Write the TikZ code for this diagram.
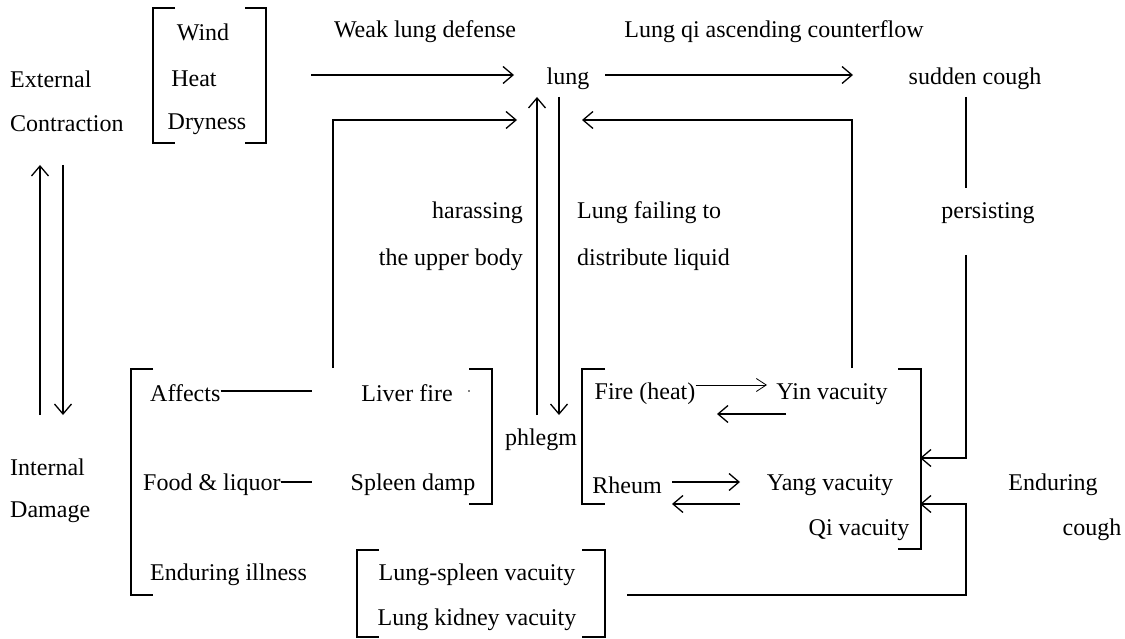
\documentclass[tikz,border=0pt]{standalone}
\usepackage{fontspec}
\setmainfont{Liberation Serif}
\usetikzlibrary{arrows.meta,positioning}
\tikzset{
  lbl/.style={inner sep=0pt, font=\fontsize{24}{28}\selectfont},
  flow/.style={-{Straight Barb[length=10pt,width=17pt]}, line width=1.3pt},
  thinflow/.style={-{Straight Barb[length=10pt,width=13pt]}, line width=0.8pt},
  plain/.style={line width=1.3pt},
  brk/.style={line width=1.5pt},
}

\begin{document}
\begin{tikzpicture}[x=1pt,y=-1pt]
    \useasboundingbox (0,0) rectangle (1125,639);

    % Causes: external side
    \node[lbl, anchor=west] (ext) at (10,79) {External};
    \node[lbl, anchor=west] (contr) at (10,124) {Contraction};
    \node[lbl] (wind) at (203,32) {Wind};
    \node[lbl] (heat) at (194,79) {Heat};
    \node[lbl] (dry) at (207,124) {Dryness};

    % Top row
    \node[lbl] (weak) at (425,32) {Weak lung defense};
    \node[lbl] (lung) at (568,79) {lung};
    \node[lbl] (qiup) at (774,32) {Lung qi ascending counterflow};
    \node[lbl] (sudden) at (975,79) {sudden cough};
    \node[lbl] (persist) at (988,213) {persisting};

    % Middle labels
    \node[lbl, anchor=east] (harass) at (523,213) {harassing};
    \node[lbl, anchor=east] (upper) at (523,260) {the upper body};
    \node[lbl, anchor=west] (failing) at (577,213) {Lung failing to};
    \node[lbl, anchor=west] (distrib) at (577,260) {distribute liquid};

    % Causes: internal side
    \node[lbl, anchor=west] (internal) at (10,467) {Internal};
    \node[lbl, anchor=west] (damage) at (10,512) {Damage};
    \node[lbl, anchor=west] (affects) at (150,393) {Affects};
    \node[lbl] (liver) at (407,393) {Liver fire};
    \node[lbl, anchor=west] (food) at (143,485) {Food \& liquor};
    \node[lbl] (spleen) at (413,485) {Spleen damp};
    \node[lbl, anchor=west] (illness) at (150,575) {Enduring illness};
    \node[lbl] (lsv) at (477,575) {Lung-spleen vacuity};
    \node[lbl] (lkv) at (477,620) {Lung kidney vacuity};

    % Phlegm and vacuities
    \node[lbl] (phlegm) at (541,440) {phlegm};
    \node[lbl] (fire) at (645,394) {Fire (heat)};
    \node[lbl] (yin) at (832,394) {Yin vacuity};
    \node[lbl] (rheum) at (627,485) {Rheum};
    \node[lbl] (yang) at (830,485) {Yang vacuity};
    \node[lbl] (qivac) at (859,530) {Qi vacuity};
    \node[lbl] (endur) at (1053,485) {Enduring};
    \node[lbl] (cough) at (1092,530) {cough};

    % Connector end points
    \coordinate (extR) at (311,75);
    \coordinate (lungL) at (514,75);
    \coordinate (lungR) at (605,75);
    \coordinate (suddenL) at (853,75);
    \coordinate (liverT) at (333,368);
    \coordinate (lungLL) at (517,120);
    \coordinate (phlegmTL) at (537,415);
    \coordinate (lungBL) at (537,97);
    \coordinate (lungBR) at (559,97);
    \coordinate (phlegmTR) at (559,415);
    \coordinate (yinT) at (852,368);
    \coordinate (lungRR) at (582,120);
    \coordinate (suddenB) at (966,97);
    \coordinate (persistT) at (966,188);
    \coordinate (persistB) at (966,255);
    \coordinate (vacR1) at (920,458);
    \coordinate (vacR2) at (920,504);
    \coordinate (lsvR) at (627,595);
    \coordinate (extB1) at (40,165);
    \coordinate (intT1) at (40,415);
    \coordinate (extB2) at (63,165);
    \coordinate (intT2) at (63,415);

    % Arrows along the top
    \draw[flow] (extR) -- (lungL);
    \draw[flow] (lungR) -- (suddenL);
    \draw[flow] (liverT) |- (lungLL);
    \draw[flow] (phlegmTL) -- (lungBL);
    \draw[flow] (lungBR) -- (phlegmTR);
    \draw[flow] (yinT) |- (lungRR);
    \draw[plain] (suddenB) -- (persistT);
    \draw[flow] (persistB) |- (vacR1);
    \draw[flow] (lsvR) -| (966,504) -- (vacR2);

    % External and internal exchange
    \draw[flow] (intT1) -- (extB1);
    \draw[flow] (extB2) -- (intT2);

    % Short lines to the organs
    \draw[plain] (affects.east |- 0,391) -- (312,391);
    \draw[plain] (food.east |- 0,482) -- (312,482);
    \fill (469,391) circle (0.9);

    % Mutual arrows
    \draw[thinflow] (fire.east |- 0,385) -- (767,385);
    \draw[flow] (786,414) -- (717,414);
    \draw[flow] (672,482) -- (740,482);
    \draw[flow] (740,504) -- (672,504);

    % Brackets
    \draw[brk] (175,8) -| (153,143) -- (175,143);
    \draw[brk] (245,8) -| (266,143) -- (245,143);
    \draw[brk] (153,369) -| (131,595) -- (153,595);
    \draw[brk] (469,369) -| (492,504) -- (469,504);
    \draw[brk] (379,550) -| (357,637) -- (379,637);
    \draw[brk] (582,550) -| (605,637) -- (582,637);
    \draw[brk] (605,369) -| (582,504) -- (605,504);
    \draw[brk] (898,369) -| (921,549) -- (898,549);
\end{tikzpicture}
\end{document}
